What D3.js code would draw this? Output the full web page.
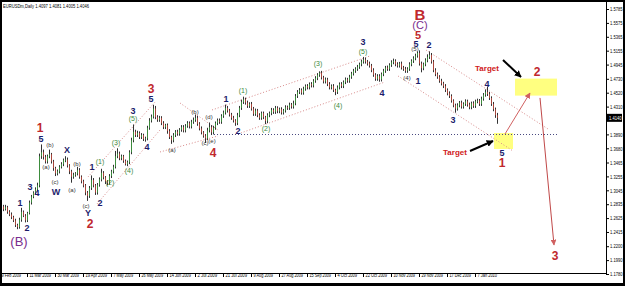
<!DOCTYPE html>
<html>
<head>
<meta charset="utf-8">
<script src="https://cdn.jsdelivr.net/npm/d3@7/dist/d3.min.js"></script>
<style>
  body { margin: 0; background: #fff; }
  svg { display: block; font-family: "Liberation Sans", Arial, sans-serif; }
</style>
</head>
<body>
<svg id="chart" width="625" height="286"></svg>
<script>
// daily closes, in pips above 1.0000 (2870 -> 1.2870)
var closes = [
  2870,2800,2760,2790,2720,2680,2640,2590,2520,2490,
  2600,2720,2660,2590,2700,2860,2950,3010,3060,3120,
  3560,3620,3550,3480,3560,3590,3480,3380,3300,3330,
  3400,3440,3500,3510,3420,3330,3250,3280,3300,3350,
  3250,3180,3120,3010,2960,3080,3200,3120,3010,3130,
  3210,3310,3240,3180,3160,3260,3330,3400,3560,3600,
  3530,3560,3490,3440,3470,3620,3800,3930,3880,3910,
  3850,3880,3820,3830,3990,4100,4160,4280,4150,4110,
  4140,4060,4000,4030,3940,3850,3800,3880,3930,3900,
  3960,4000,3950,4020,4060,4010,4080,4110,4140,4050,
  3980,3920,3870,3830,3950,4000,3920,3990,4060,4100,
  4080,4170,4220,4290,4250,4190,4140,4100,4060,4180,
  4290,4380,4420,4370,4320,4350,4280,4200,4250,4180,
  4140,4210,4150,4090,4180,4210,4260,4230,4290,4240,
  4270,4220,4250,4300,4290,4340,4310,4360,4470,4530,
  4560,4520,4580,4620,4600,4650,4630,4700,4740,4790,
  4820,4750,4690,4720,4650,4600,4620,4560,4530,4600,
  4650,4620,4680,4720,4700,4760,4810,4850,4880,4910,
  4950,4990,5020,4990,4960,4930,4860,4790,4730,4770,
  4720,4800,4850,4900,4880,4940,4980,5000,4950,4930,
  4960,4900,4880,4850,4880,4950,5000,5040,5080,5120,
  4960,4890,4950,5010,5060,5090,4990,4860,4800,4760,
  4700,4660,4620,4560,4510,4470,4400,4330,4280,4330,
  4370,4310,4350,4390,4340,4300,4360,4320,4390,4400,
  4350,4430,4490,4530,4500,4440,4350,4270,4180,4140
];
var firstOpen = 2900;
// upper and lower shadows, pips
var wickUp = [
  80,30,25,35,20,25,30,20,25,20,  30,60,20,25,20,30,25,20,30,40,
  40,118,40,30,25,70,20,25,20,30, 25,30,25,50,30,20,25,30,20,50,
  30,20,25,20,25,30,70,30,20,25,  30,60,25,20,20,30,25,30,80,80,
  30,25,20,20,25,30,40,110,30,35, 25,30,20,25,30,35,30,57,40,30,
  30,25,30,20,25,30,20,30,25,30,  25,30,30,25,30,25,30,35,50,30,
  25,30,20,25,40,70,30,30,25,30,  30,25,30,50,30,25,25,30,20,35,
  30,35,40,25,30,25,30,25,30,25,  30,25,25,20,30,25,30,25,30,25,
  25,30,25,30,25,30,25,40,30,30,  30,25,30,25,30,25,30,25,30,25,
  23,30,25,30,25,30,25,30,20,30,  25,30,25,30,25,30,25,30,25,30,
  25,30,41,30,25,30,25,30,25,30,  30,25,30,25,30,25,30,35,25,30,
  25,30,25,30,25,30,25,30,30,24,  40,30,25,30,40,55,30,25,30,25,
  25,30,25,30,25,30,25,20,25,30,  25,30,25,30,25,30,25,30,25,30,
  25,30,25,40,80,30,25,30,25,35
];
var wickDn = [
  30,25,30,20,30,25,30,25,30,33,  25,30,20,30,25,20,30,25,20,30,
  30,40,40,30,30,30,30,40,40,30,  30,25,30,30,30,40,90,30,30,30,
  30,30,30,40,75,30,30,30,35,30,  30,30,30,40,40,30,30,30,25,30,
  30,30,30,20,30,30,30,30,30,30,  30,30,30,40,30,30,30,30,30,30,
  30,30,30,30,40,30,53,30,30,30,  30,30,30,30,30,30,30,30,30,30,
  30,30,30,70,30,30,40,30,30,30,  30,30,30,30,30,30,30,30,40,30,
  30,30,30,30,30,30,30,30,30,30,  30,30,30,45,30,30,30,30,30,30,
  30,30,30,30,30,30,30,30,30,30,  30,30,30,30,30,30,30,30,30,30,
  30,30,30,30,30,30,30,30,47,30,  30,30,30,30,30,30,30,30,30,30,
  30,30,30,30,30,30,30,30,30,30,  34,30,30,30,30,30,30,30,30,30,
  30,30,30,30,30,30,30,30,30,30,  30,62,30,30,30,30,30,30,30,30,
  30,30,30,30,30,30,30,30,62,30,  30,30,30,30,30,30,30,30,30,30,
  30,30,30,30,30,30,30,30,40,90
];

var dateLabels = ["9 Feb 2009","11 Mar 2009","30 Mar 2009","19 Apr 2009","7 May 2009",
  "26 May 2009","14 Jun 2009","2 Jul 2009","21 Jul 2009","9 Aug 2009","27 Aug 2009",
  "15 Sep 2009","4 Oct 2009","22 Oct 2009","10 Nov 2009","29 Nov 2009","17 Dec 2009","7 Jan 2010"];
var dateIdx = [0,14,28,42,56,70,84,98,112,126,140,154,168,182,196,210,224,238];
var priceTicks = [1.5785,1.5575,1.5365,1.5155,1.4945,1.4730,1.4520,1.4310,1.3890,
  1.3680,1.3465,1.3255,1.3045,1.2835,1.2625,1.2415,1.2200,1.1990,1.1780];

// wave labels: [text, bar index, price]
var redLabels = [["1",20.5,1.3987],["2",45.5,1.2536],["3",76,1.4576],["4",107,1.3609],
  ["2",269,1.4833],["1",251.5,1.3458],["3",278,1.2053]];
var blueLabels = [["1",10.5,1.2854],["2",14,1.2476],["3",15.5,1.3095],["4",19,1.3005],
  ["5",21,1.3821],["W",28.5,1.3020],["X",34,1.3654],["Y",44.5,1.2703],["1",46.5,1.3398],
  ["2",50.5,1.2854],["3",67,1.4244],["4",74,1.3700],["5",76,1.4425],["1",113.5,1.4425],
  ["2",119.5,1.3942],["3",182,1.5286],["4",191.5,1.4516],["5",208.5,1.5256],
  ["1",209.5,1.4697],["2",215,1.5241],["3",227,1.4108],["4",244,1.4652],["5",251.5,1.3609]];
var greenLabels = [["(1)",50.5,1.3473],["(2)",55.5,1.3156],["(3)",58.5,1.3760],
  ["(4)",65,1.3337],["(5)",67,1.4123],["(1)",122,1.4546],["(2)",133.5,1.3972],
  ["(3)",159.5,1.4954],["(4)",169.5,1.4334],["(5)",182,1.5150]];
var greyLabels = [["(a)",23.5,1.3398],["(b)",25.5,1.3730],["(c)",28,1.3171],
  ["(a)",36.5,1.3050],["(b)",39,1.3443],["(c)",43.5,1.2808],["(a)",86.5,1.3654],
  ["(b)",98,1.4229],["(c)",103,1.3760],["(d)",105,1.4153],["(e)",106.5,1.3791],
  ["(4)",204,1.4742],["(5)",208,1.5181]];
var topStack = [["B",210.5,1.5709,15,"bold","#c0282d"],["(C)",210.5,1.5543,11,"normal","#7a2e8e"],
  ["5",209.5,1.5392,11,"bold","#c0282d"]];
var bigB = [["(B)",10,1.2264]];

// channel lines: [i1, p1, i2, p2]
var channels = [[44.5,1.3247,78.5,1.4395],[49,1.2839,80.5,1.3957],
  [90.5,1.4365,109.5,1.3957],[80.5,1.3624,109.5,1.3866],
  [106.5,1.4259,185.5,1.5075],[119.5,1.3896,193,1.4682],
  [213.5,1.5165,274.5,1.3972],[199.5,1.4773,257,1.3639]];
var levelLine = [107.5, 279, 1.3896];
var boxes = [[258,279,1.4733,1.4476],[247.5,257,1.3911,1.3669]];

var svg = d3.select("#chart");
var W = 625, H = 286;

var x = d3.scaleLinear().domain([0, 249]).range([-1, 497]);
var y = d3.scaleLinear().domain([1.1780, 1.5785]).range([274, 9]);
var pip = function(v) { return 1 + v / 10000; };

svg.append("rect").attr("width", W).attr("height", H).attr("fill", "#000");
svg.append("rect").attr("x", 2).attr("y", 2).attr("width", W - 4).attr("height", H - 5).attr("fill", "#fff");

var plot = svg.append("g");
plot.append("clipPath").attr("id", "clip")
  .append("rect").attr("x", 2).attr("y", 2).attr("width", 604).attr("height", 271);
var inner = plot.append("g").attr("clip-path", "url(#clip)");

// yellow target boxes
inner.selectAll(".box").data(boxes).enter().append("rect")
  .attr("x", function(d) { return x(d[0]); })
  .attr("y", function(d) { return y(d[2]); })
  .attr("width", function(d) { return x(d[1]) - x(d[0]); })
  .attr("height", function(d) { return y(d[3]) - y(d[2]); })
  .attr("fill", "#ffff80");

// channels
inner.selectAll(".chan").data(channels).enter().append("line")
  .attr("x1", function(d) { return x(d[0]); }).attr("y1", function(d) { return y(d[1]); })
  .attr("x2", function(d) { return x(d[2]); }).attr("y2", function(d) { return y(d[3]); })
  .attr("stroke", "#d88a8a").attr("stroke-width", 1).attr("stroke-dasharray", "1,2");

inner.append("line")
  .attr("x1", x(levelLine[0])).attr("x2", x(levelLine[1]))
  .attr("y1", Math.round(y(levelLine[2])) + 0.5).attr("y2", Math.round(y(levelLine[2])) + 0.5)
  .attr("stroke", "#4a4a80").attr("stroke-dasharray", "1,2");

// candles
var bars = closes.map(function(c, i) {
  var o = i == 0 ? firstOpen : closes[i - 1];
  return { i: i, o: o, c: c, h: Math.max(o, c) + wickUp[i], l: Math.min(o, c) - wickDn[i] };
});
var cg = inner.append("g");
cg.selectAll(".wick").data(bars).enter().append("line")
  .attr("x1", function(d) { return Math.round(x(d.i)) + 0.5; })
  .attr("x2", function(d) { return Math.round(x(d.i)) + 0.5; })
  .attr("y1", function(d) { return y(pip(d.h)); })
  .attr("y2", function(d) { return y(pip(d.l)); })
  .attr("stroke", "#333").attr("stroke-width", 1);
cg.selectAll(".body").data(bars).enter().append("rect")
  .attr("x", function(d) { return Math.round(x(d.i)); })
  .attr("width", 1)
  .attr("y", function(d) { return y(pip(Math.max(d.o, d.c))); })
  .attr("height", function(d) { return Math.max(1, Math.abs(y(pip(d.o)) - y(pip(d.c)))); })
  .attr("fill", function(d) { return d.c >= d.o ? "#3d8c3d" : "#a8453a"; });

// arrows
var defs = svg.append("defs");
function marker(id, color, size) {
  defs.append("marker").attr("id", id).attr("viewBox", "0 0 10 10")
    .attr("refX", 9).attr("refY", 5).attr("markerWidth", size).attr("markerHeight", size)
    .attr("orient", "auto").attr("markerUnits", "userSpaceOnUse")
    .append("path").attr("d", "M0,0L10,5L0,10z").attr("fill", color);
}
marker("headRed", "#d06060", 6);
marker("headBlack", "#000", 7);
var arrows = [[253,1.3896,265.5,1.4516,"#d06060",1,"headRed"],
  [270.5,1.4441,277.5,1.2218,"#c04848",1,"headRed"],
  [252,1.5014,261,1.4757,"#000",2,"headBlack"],
  [235.5,1.3639,247,1.3790,"#000",2,"headBlack"]];
inner.selectAll(".arrow").data(arrows).enter().append("line")
  .attr("x1", function(d) { return x(d[0]); }).attr("y1", function(d) { return y(d[1]); })
  .attr("x2", function(d) { return x(d[2]); }).attr("y2", function(d) { return y(d[3]); })
  .attr("stroke", function(d) { return d[4]; })
  .attr("stroke-width", function(d) { return d[5]; })
  .attr("marker-end", function(d) { return "url(#" + d[6] + ")"; });

function addLabels(data, color, size, weight) {
  inner.selectAll(null).data(data).enter().append("text")
    .attr("x", function(d) { return x(d[1]); })
    .attr("y", function(d) { return y(d[2]); })
    .attr("text-anchor", "middle").attr("dominant-baseline", "central")
    .attr("font-size", size).attr("font-weight", weight).attr("fill", color)
    .text(function(d) { return d[0]; });
}
addLabels(greyLabels, "#333", 6, "normal");
addLabels(greenLabels, "#3d8b3d", 7, "normal");
addLabels(blueLabels, "#1c1c6b", 9, "bold");
addLabels(redLabels, "#c0282d", 12, "bold");
addLabels(bigB, "#7a2e8e", 13, "normal");
addLabels([["Target", 244, 1.4893], ["Target", 228, 1.3609]], "#d02020", 8, "bold");
inner.selectAll(null).data(topStack).enter().append("text")
  .attr("x", function(d) { return x(d[1]); })
  .attr("y", function(d) { return y(d[2]); })
  .attr("text-anchor", "middle").attr("dominant-baseline", "central")
  .attr("font-size", function(d) { return d[3]; })
  .attr("font-weight", function(d) { return d[4]; })
  .attr("fill", function(d) { return d[5]; })
  .text(function(d) { return d[0]; });

// axes
svg.append("line").attr("x1", 606.5).attr("x2", 606.5).attr("y1", 2).attr("y2", 274).attr("stroke", "#000");
svg.append("line").attr("x1", 2).attr("x2", 607).attr("y1", 273.5).attr("y2", 273.5).attr("stroke", "#000");

var yAxis = svg.append("g").attr("transform", "translate(606,0)")
  .call(d3.axisRight(y).tickValues(priceTicks).tickSize(3).tickPadding(1).tickFormat(d3.format(".4f")));
yAxis.select(".domain").remove();
yAxis.selectAll("text").attr("font-size", 5.5).attr("font-family", "Liberation Sans, Arial")
  .attr("fill", "#000").attr("x", 0).attr("transform", "translate(4,0) scale(0.74,1)");

var xAxis = svg.append("g").attr("transform", "translate(0,273)")
  .call(d3.axisBottom(x).tickValues(dateIdx).tickSize(4)
    .tickFormat(function(d, i) { return dateLabels[i]; }));
xAxis.select(".domain").remove();
xAxis.selectAll("text").attr("font-size", 5.5).attr("font-family", "Liberation Sans, Arial")
  .attr("text-anchor", "start").attr("dx", 2).attr("dy", -3).attr("fill", "#000")
  .attr("textLength", function(d, i) { return dateLabels[i].length * 1.95; })
  .attr("lengthAdjust", "spacingAndGlyphs");

// last price box
var last = pip(closes[closes.length - 1]);
svg.append("rect").attr("x", 607).attr("y", y(last) - 4).attr("width", 15).attr("height", 8).attr("fill", "#000");
svg.append("text").attr("transform", "translate(609," + y(last) + ") scale(0.74,1)")
  .attr("dominant-baseline", "central")
  .attr("font-size", 5.5).attr("fill", "#fff")
  .text(last.toFixed(4));

svg.append("text").attr("x", 3).attr("y", 8).attr("font-size", 5.5).attr("fill", "#000")
  .attr("textLength", 86).attr("lengthAdjust", "spacingAndGlyphs")
  .text("EURUSDm,Daily 1.4097 1.4081 1.4005 1.4046");
</script>
</body>
</html>
